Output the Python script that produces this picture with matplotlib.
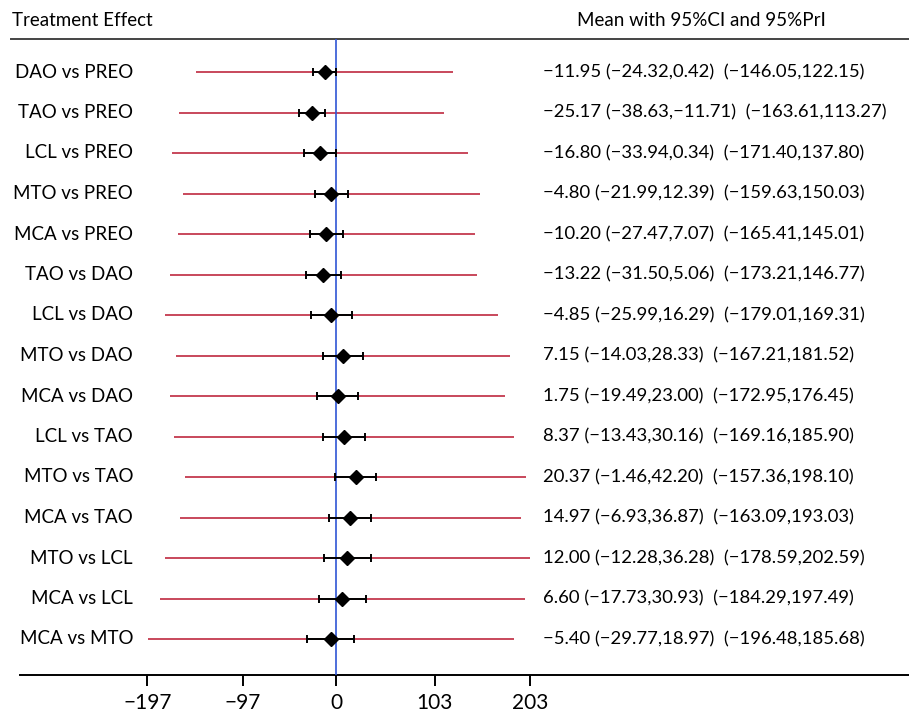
import matplotlib
matplotlib.use("Agg")
import matplotlib.pyplot as plt
import matplotlib.transforms as mtransforms

plt.rcParams['font.family'] = ['Lato', 'DejaVu Sans']

# comparisons, top to bottom
labels = ["DAO vs PREO", "TAO vs PREO", "LCL vs PREO", "MTO vs PREO", "MCA vs PREO",
          "TAO vs DAO", "LCL vs DAO", "MTO vs DAO", "MCA vs DAO", "LCL vs TAO",
          "MTO vs TAO", "MCA vs TAO", "MTO vs LCL", "MCA vs LCL", "MCA vs MTO"]
mean = [-11.95, -25.17, -16.80, -4.80, -10.20, -13.22, -4.85, 7.15, 1.75, 8.37,
        20.37, 14.97, 12.00, 6.60, -5.40]
ci_lo = [-24.32, -38.63, -33.94, -21.99, -27.47, -31.50, -25.99, -14.03, -19.49, -13.43,
         -1.46, -6.93, -12.28, -17.73, -29.77]
ci_hi = [0.42, -11.71, 0.34, 12.39, 7.07, 5.06, 16.29, 28.33, 23.00, 30.16,
         42.20, 36.87, 36.28, 30.93, 18.97]
pri_lo = [-146.05, -163.61, -171.40, -159.63, -165.41, -173.21, -179.01, -167.21, -172.95, -169.16,
          -157.36, -163.09, -178.59, -184.29, -196.48]
pri_hi = [122.15, 113.27, 137.80, 150.03, 145.01, 146.77, 169.31, 181.52, 176.45, 185.90,
          198.10, 193.03, 202.59, 197.49, 185.68]
xticks = [-197, -97, 0, 103, 203]

W, H = 909, 712
fig = plt.figure(figsize=(W / 100, H / 100), dpi=100)
ax = fig.add_axes([11 / W, (H - 675) / H, 898 / W, (675 - 39) / H])

scale = 0.9575  # px per unit
x0 = 336
ax.set_xlim((11 - x0) / scale, (909 - x0) / scale)
ax.set_ylim((675 - 72) / 40.5, (39 - 72) / 40.5)

rows = list(range(len(labels)))

# prediction intervals
ax.hlines(rows, pri_lo, pri_hi, color='#b9162f', lw=1.1, zorder=2)
ax.axvline(0, color='#2f55d4', lw=1.2, zorder=3)
# confidence intervals + means
err = [[m - lo for m, lo in zip(mean, ci_lo)], [hi - m for m, hi in zip(mean, ci_hi)]]
ax.errorbar(mean, rows, xerr=err, fmt='none', ecolor='black', elinewidth=1.4,
            capsize=3, capthick=1.4, zorder=4)
ax.plot(mean, rows, 'D', color='black', ms=7.5, zorder=5)

for s in ['left', 'right']:
    ax.spines[s].set_visible(False)
ax.spines['top'].set_color('#444444')
ax.spines['top'].set_linewidth(1.4)
ax.spines['bottom'].set_linewidth(1.4)
ax.spines['bottom'].set_bounds((20 - x0) / scale, (909 - x0) / scale)
ax.set_yticks([])
ax.set_xticks(xticks)
ax.set_xticklabels([str(t).replace('-', '\u2212') for t in xticks])
ax.tick_params(axis='x', direction='out', length=8, width=1.4, labelsize=15, pad=5)

tr = mtransforms.blended_transform_factory(fig.transFigure, ax.transData)
for i, lab in enumerate(labels):
    ax.text(133 / W, i, lab, transform=tr, ha='right', va='center', fontsize=13.5)
    s = "%.2f (%.2f,%.2f)  (%.2f,%.2f)" % (mean[i], ci_lo[i], ci_hi[i], pri_lo[i], pri_hi[i])
    ax.text(543 / W, i, s.replace('-', '\u2212'), transform=tr, ha='left', va='center',
            fontsize=13.3)

fig.text(12 / W, 1 - 20 / H, "Treatment Effect", ha='left', va='center', fontsize=13.5)
fig.text(577 / W, 1 - 20 / H, "Mean with 95%CI and 95%PrI", ha='left', va='center', fontsize=13.5)

fig.savefig("out.png", dpi=100)
